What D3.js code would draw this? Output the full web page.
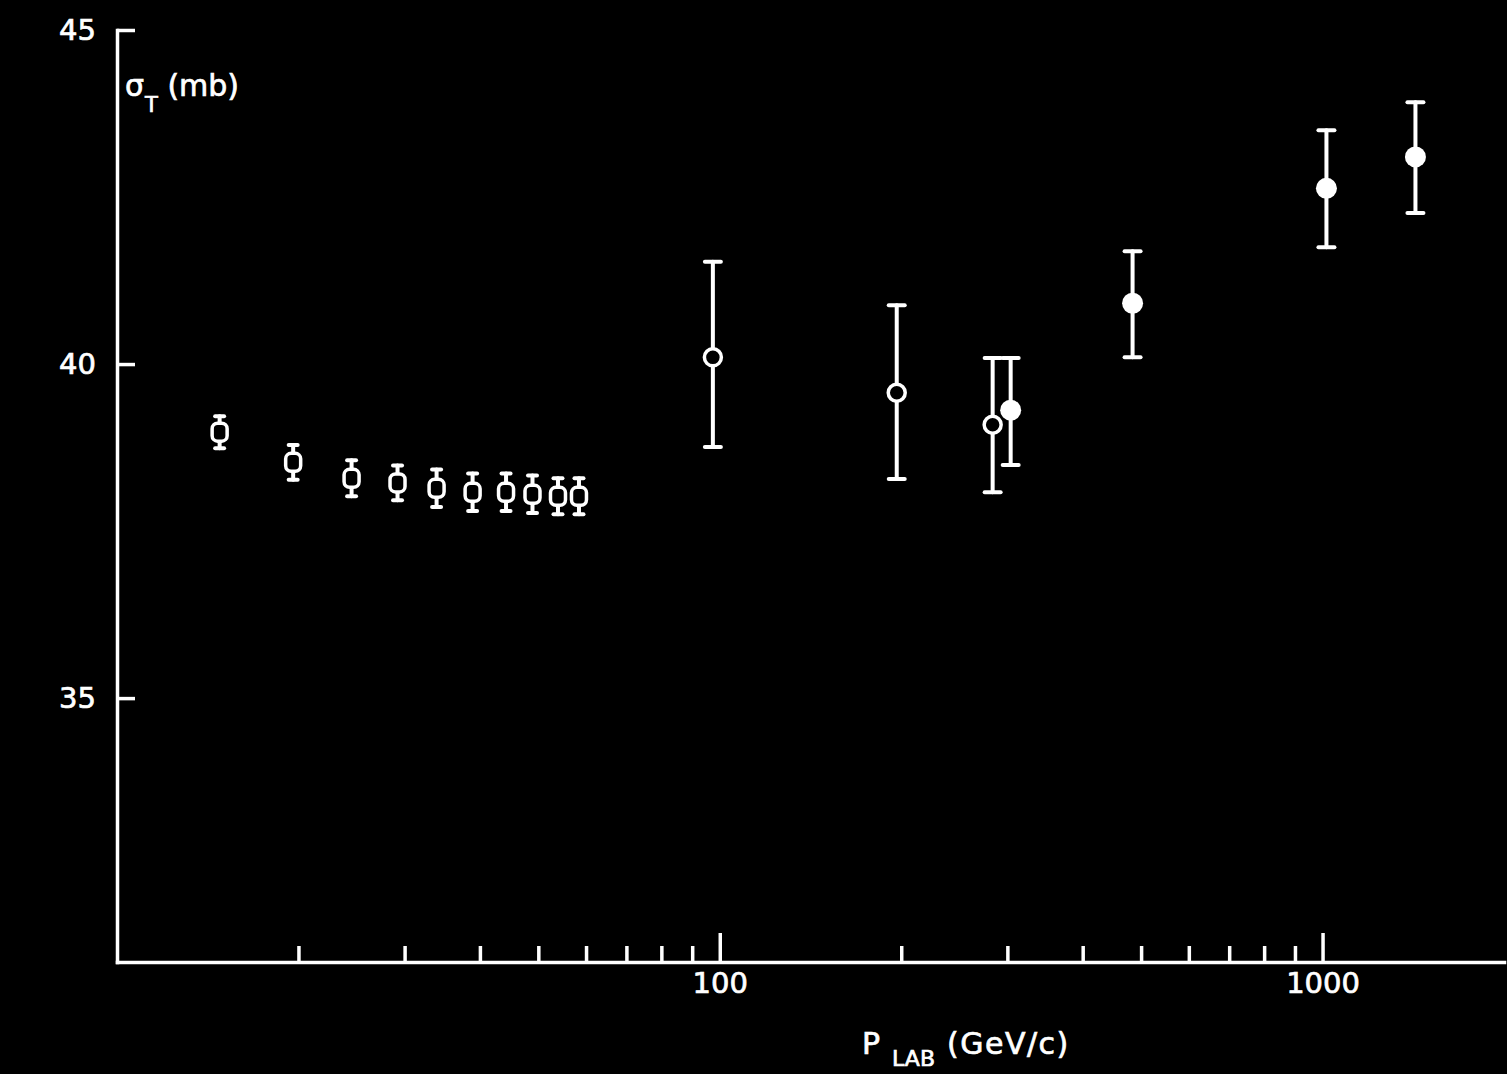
<!DOCTYPE html>
<html>
<head>
<meta charset="utf-8">
<script src="https://cdn.jsdelivr.net/npm/d3@7"></script>
<style>
body { margin:0; background:#000; }
svg { display:block; }
text { font-family:"DejaVu Sans", sans-serif; fill:#fff; stroke:#fff; stroke-width:0.7; }
</style>
</head>
<body>
<svg id="graph" width="1507" height="1074"></svg>
<script>
// carrés ouverts (basse énergie)
var carreP = [14.8, 19.6, 24.5, 29.2, 33.9, 38.9, 44.2, 48.9, 53.9, 58.4];
var carreS = [38.98, 38.53, 38.29, 38.22, 38.14, 38.08, 38.08, 38.05, 38.02, 38.02];
var carreErr = [0.24, 0.26, 0.27, 0.26, 0.28, 0.28, 0.28, 0.28, 0.27, 0.27];

// cercles ouverts
var ouvP = [97.4, 196.6, 283.6];
var ouvS = [40.10, 39.57, 39.09];
var ouvHaut = [41.53, 40.88, 40.09];
var ouvBas = [38.76, 38.28, 38.08];

// cercles pleins
var pleinP = [303.8, 484, 1015, 1426];
var pleinS = [39.31, 40.91, 42.63, 43.10];
var pleinHaut = [40.09, 41.69, 43.50, 43.92];
var pleinBas = [38.49, 40.10, 41.75, 42.26];

// graduations
var ticksY = [35, 40, 45];
var ticksXmaj = [100, 1000];
var ticksXmin = [20, 30, 40, 50, 60, 70, 80, 90, 200, 300, 400, 500, 600, 700, 800, 900];

var svg = d3.select("#graph");
svg.append("rect").attr("width", 1507).attr("height", 1074).attr("fill", "#000");

var scaleX = d3.scaleLog().domain([10, 2000]).range([117, 1504]);
var scaleY = d3.scaleLinear().domain([31.05, 45]).range([962, 30]);

function styleAxe(g) {
	g.attr("color", "#fff").attr("font-size", 29).attr("font-family", "DejaVu Sans, sans-serif");
	g.selectAll("line").attr("stroke-width", 3.5);
	g.selectAll(".domain").attr("stroke-width", 3.5).attr("stroke-linecap", "square");
}

// Axe Y
var yAxis = d3.axisLeft(scaleY).tickValues(ticksY).tickSize(-18).tickSizeOuter(0)
	.tickPadding(21).tickFormat(d3.format("d"));
var gy = svg.append("g").attr("transform", "translate(117,0)").call(yAxis);
styleAxe(gy);

// Axe X : petites graduations puis grandes
var xMin = d3.axisBottom(scaleX).tickValues(ticksXmin).tickSize(-16).tickSizeOuter(0).tickFormat("");
var gxm = svg.append("g").attr("transform", "translate(0,962)").call(xMin);
gxm.select(".domain").remove();
styleAxe(gxm);

var xMaj = d3.axisBottom(scaleX).tickValues(ticksXmaj).tickSize(-29).tickSizeOuter(0)
	.tickPadding(10).tickFormat(d3.format("d"));
var gx = svg.append("g").attr("transform", "translate(0,962)").call(xMaj);
styleAxe(gx);

// barres d'erreur
function barre(g, x, hi, lo, w) {
	g.append("line").attr("x1", x).attr("x2", x).attr("y1", scaleY(hi)).attr("y2", scaleY(lo));
	g.append("line").attr("x1", x - w / 2).attr("x2", x + w / 2).attr("y1", scaleY(hi)).attr("y2", scaleY(hi));
	g.append("line").attr("x1", x - w / 2).attr("x2", x + w / 2).attr("y1", scaleY(lo)).attr("y2", scaleY(lo));
}

var gErr = svg.append("g").attr("stroke", "#fff").attr("stroke-width", 4).attr("stroke-linecap", "round");
for (var i = 0; i < carreP.length; i++) {
	barre(gErr, scaleX(carreP[i]), carreS[i] + carreErr[i], carreS[i] - carreErr[i], 9);
}
for (var i = 0; i < ouvP.length; i++) {
	barre(gErr, scaleX(ouvP[i]), ouvHaut[i], ouvBas[i], 16);
}
for (var i = 0; i < pleinP.length; i++) {
	barre(gErr, scaleX(pleinP[i]), pleinHaut[i], pleinBas[i], 16);
}

// points
svg.append("g").selectAll("rect").data(carreP).enter().append("rect")
	.attr("x", function(d) { return scaleX(d) - 7.5; })
	.attr("y", function(d, i) { return scaleY(carreS[i]) - 9; })
	.attr("width", 15).attr("height", 18).attr("rx", 5.5)
	.attr("fill", "#000").attr("stroke", "#fff").attr("stroke-width", 3.5);

svg.append("g").selectAll("circle").data(ouvP).enter().append("circle")
	.attr("cx", function(d) { return scaleX(d); })
	.attr("cy", function(d, i) { return scaleY(ouvS[i]); })
	.attr("r", 8.5).attr("fill", "#000").attr("stroke", "#fff").attr("stroke-width", 3.5);

svg.append("g").selectAll("circle").data(pleinP).enter().append("circle")
	.attr("cx", function(d) { return scaleX(d); })
	.attr("cy", function(d, i) { return scaleY(pleinS[i]); })
	.attr("r", 10.5).attr("fill", "#fff");

// titres des axes
var ty = svg.append("text").attr("x", 125).attr("y", 96).attr("font-size", 30);
ty.append("tspan").text("σ");
ty.append("tspan").attr("font-size", 21).attr("dy", 16).attr("dx", 1).text("T");
ty.append("tspan").attr("dy", -16).text(" (mb)");

var tx = svg.append("text").attr("x", 862).attr("y", 1054).attr("font-size", 30);
tx.append("tspan").text("P");
tx.append("tspan").attr("font-size", 22).attr("dy", 12).attr("dx", 12).text("LAB");
tx.append("tspan").attr("dy", -12).attr("dx", 12).attr("letter-spacing", 1.5).text("(GeV/c)");
</script>
</body>
</html>
